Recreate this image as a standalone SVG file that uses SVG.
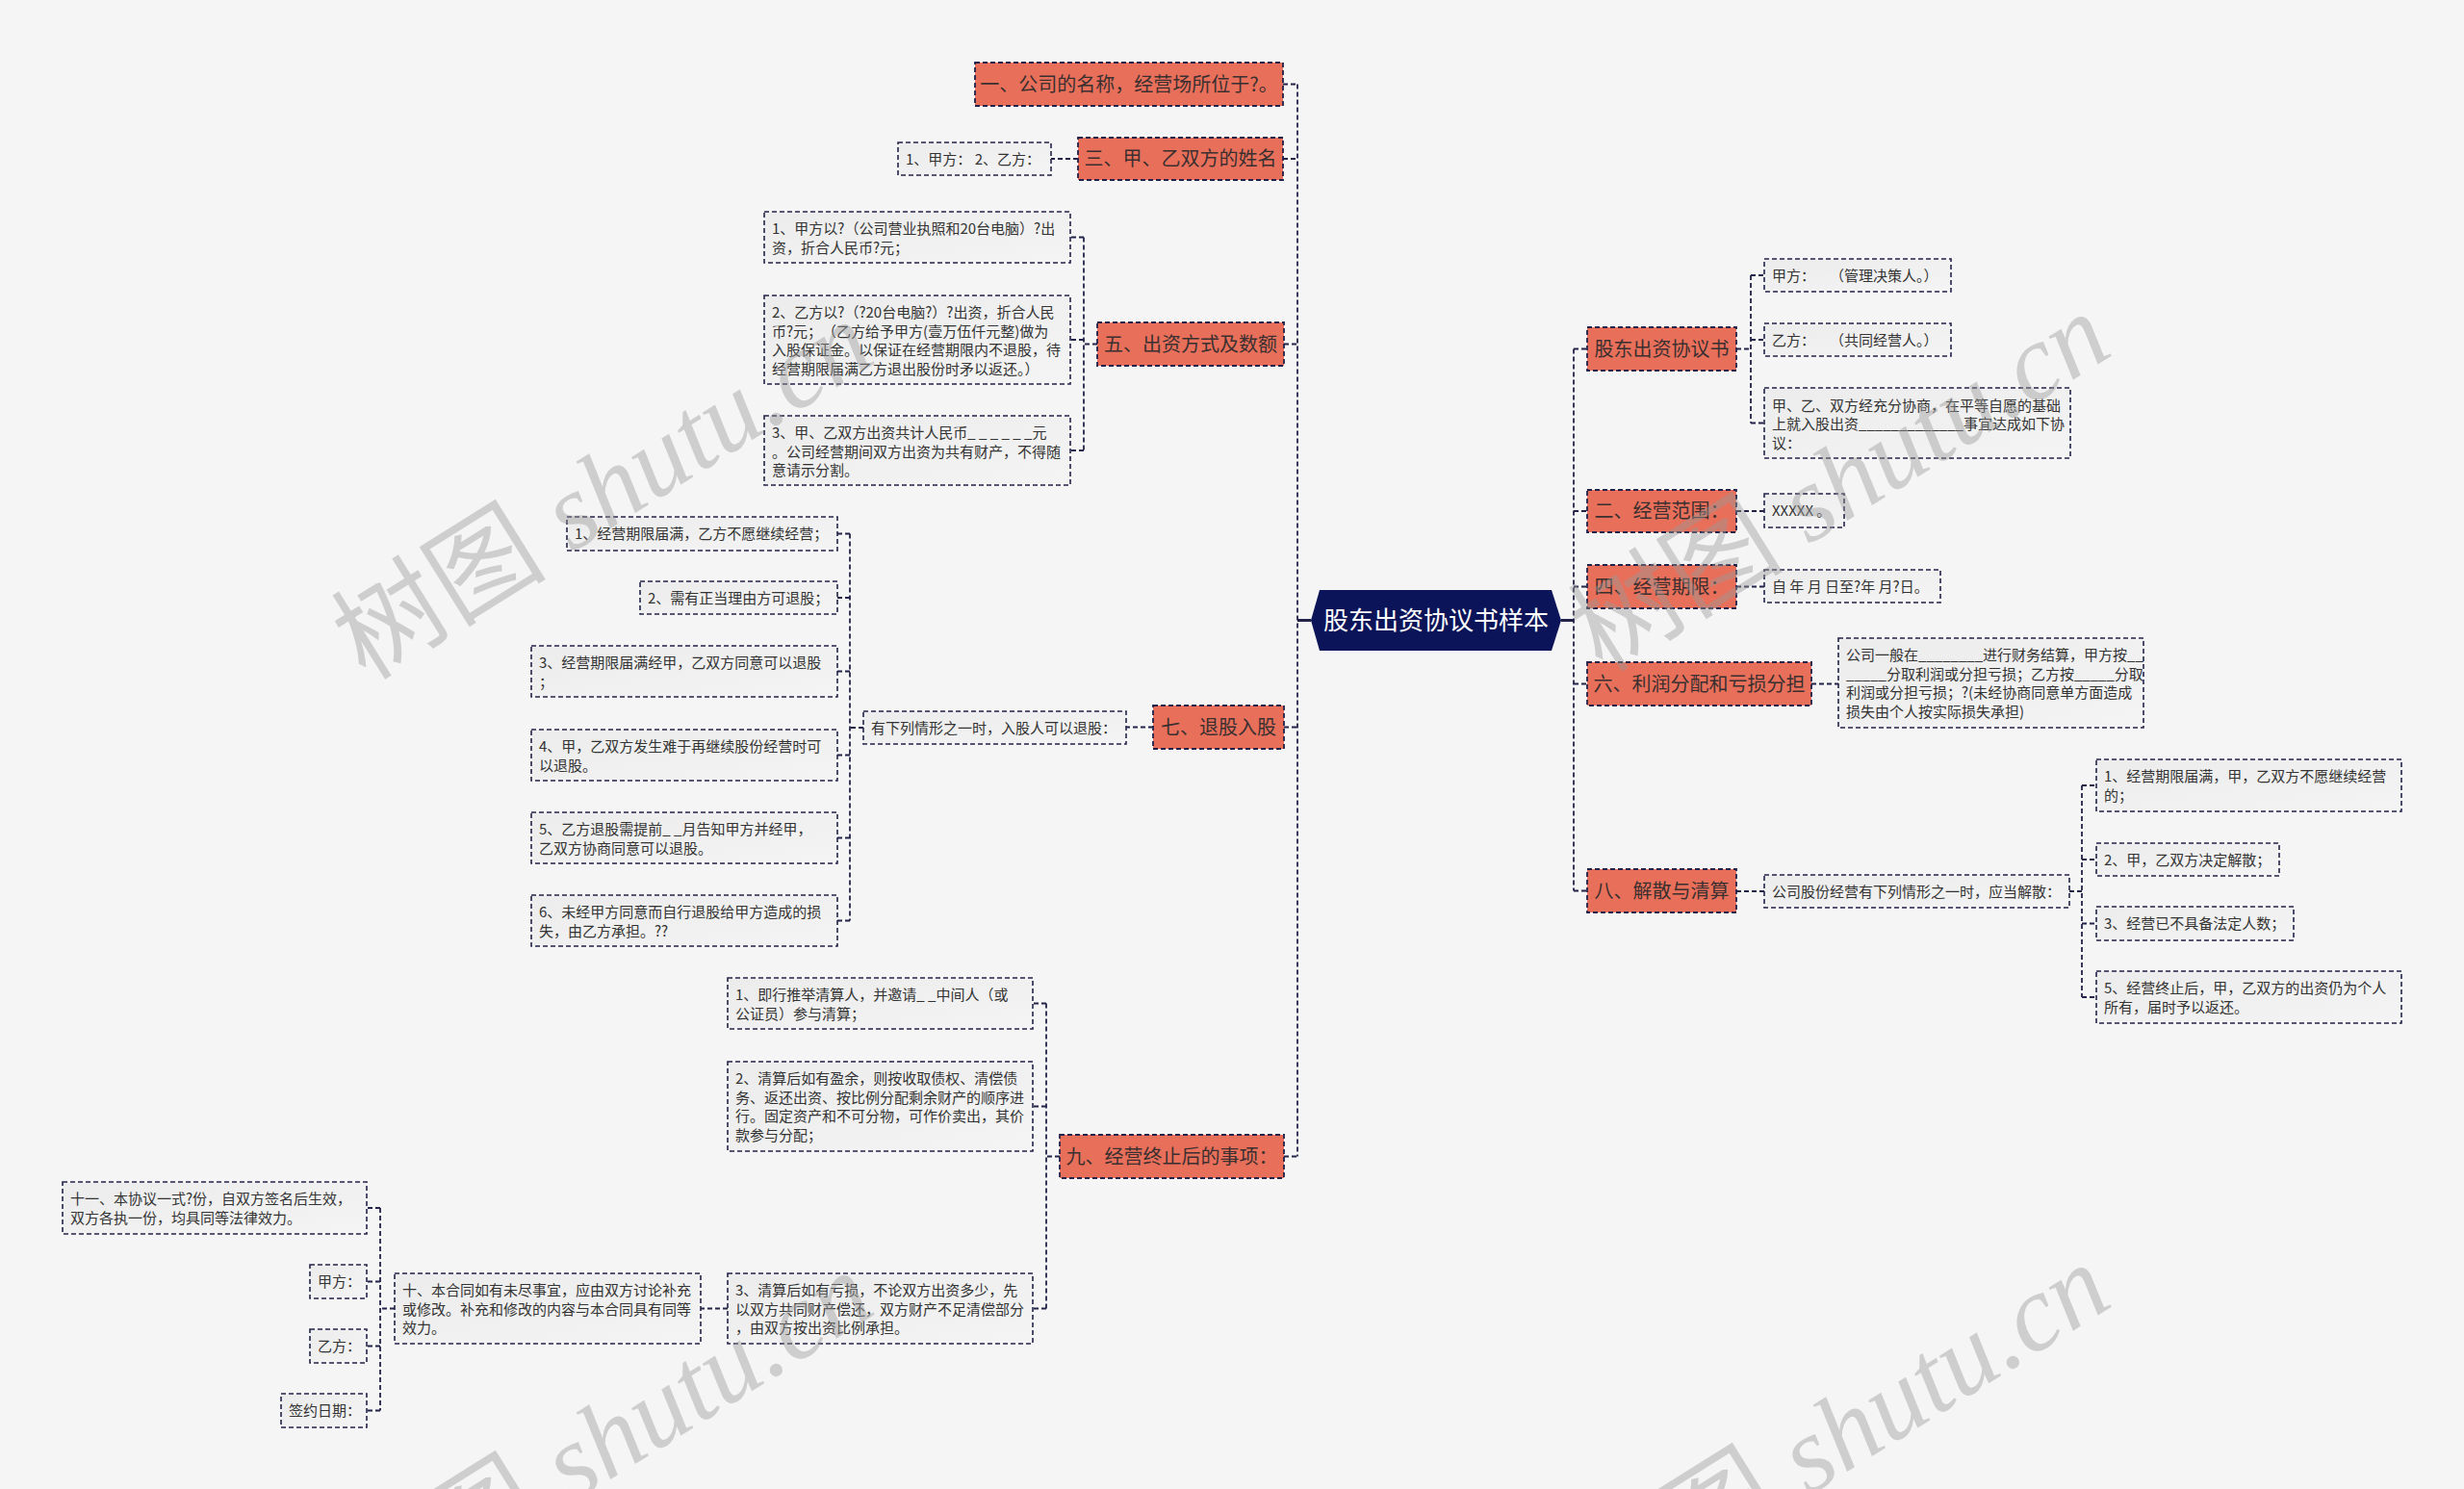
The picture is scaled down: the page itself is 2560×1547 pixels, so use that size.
<svg xmlns="http://www.w3.org/2000/svg" width="2560" height="1547" viewBox="0 0 2560 1547">
<defs>
<linearGradient id="g2" x1="0" y1="0" x2="1" y2="1">
<stop offset="0" stop-color="#ececec"/>
<stop offset="1" stop-color="#f4f4f4"/>
</linearGradient>
<style>
.n1 rect{fill:#e8705b;stroke:#23234a;stroke-width:1.8;stroke-dasharray:5 3}
.n2 rect{fill:url(#g2);stroke:#23234a;stroke-width:1.6;stroke-dasharray:5 3}
.n1 text{font-family:"Noto Sans CJK SC","Noto Sans",sans-serif;font-size:20px;fill:#3b2f2f;text-anchor:middle}
.n2 text{font-family:"Noto Sans CJK SC","Noto Sans",sans-serif;font-size:15px;fill:#333333}
.c path{fill:none;stroke:#23234a;stroke-width:1.8;stroke-dasharray:5 3}
.c .solid{stroke-dasharray:none;stroke-width:3}
.wm{font-family:"Liberation Serif","Noto Sans CJK SC",serif;font-style:italic;font-size:112px;fill:#999999;opacity:0.42}
.wm .cjk{font-family:"Noto Sans CJK SC",sans-serif;font-style:normal}
</style>
</defs>
<rect x="0" y="0" width="2560" height="1547" fill="#f5f5f5"/>

<g class="c" id="connectors">
<path class="solid" d="M1348 644.5H1362M1622 644.5H1635"/>
<path d="M1348 87.5V1201.5M1333 87.5H1348M1333 165H1348M1334 357.5H1348M1334 755.5H1348M1334 1201.5H1348"/>
<path d="M1635 362.5V925.5M1635 362.5H1649M1635 531H1649M1635 609.5H1649M1635 710.5H1649M1635 925.5H1649"/>
<path d="M1120 165H1092"/>
<path d="M1140 357.5H1126M1126 246.5V468M1126 246.5H1112M1126 353H1112M1126 468H1112"/>
<path d="M1198 755.5H1170M897 756H883M883 554.5V956.5M883 554.5H870M883 621H870M883 697.5H870M883 784.5H870M883 870.5H870M883 956.5H870"/>
<path d="M1101 1201.5H1087M1087 1042.5V1359.5M1087 1042.5H1073M1087 1149.5H1073M1087 1359.5H1073"/>
<path d="M756 1359.5H728"/>
<path d="M410 1359.5H395M395 1255V1465.5M395 1255H381M395 1331.5H381M395 1398.5H381M395 1465.5H381"/>
<path d="M1804 362.5H1819M1819 286V439.5M1819 286H1833M1819 353H1833M1819 439.5H1833"/>
<path d="M1804 531H1833M1804 609.5H1833M1882 710.5H1910"/>
<path d="M1804 926H1833M2150 926H2163M2163 816V1036M2163 816H2178M2163 893H2178M2163 959.5H2178M2163 1036H2178"/>
</g>

<g id="root">
<polygon points="1362,644.5 1371,613 1612,613 1622,644.5 1612,676 1371,676" fill="#0c1459"/>
<text x="1492" y="654" font-family="Noto Sans CJK SC, Noto Sans, sans-serif" font-size="26" fill="#ffffff" text-anchor="middle">股东出资协议书样本</text>
</g>

<g id="n-yi" class="n1"><rect x="1013" y="65" width="320" height="45"/><text x="1173" y="94.5">一、公司的名称，经营场所位于?。</text></g>
<g id="n-san" class="n1"><rect x="1120" y="143" width="213" height="44"/><text x="1226.5" y="172">三、甲、乙双方的姓名</text></g>
<g id="n-san-1" class="n2"><rect x="933" y="148" width="159" height="34"/><text x="941" y="170.5">1、甲方： 2、乙方：</text></g>

<g id="n-wu" class="n1"><rect x="1140" y="335" width="194" height="45"/><text x="1237" y="364.5">五、出资方式及数额</text></g>
<g id="n-wu-1" class="n2"><rect x="794" y="220" width="318" height="53"/><text x="802" y="243">1、甲方以?（公司营业执照和20台电脑）?出<tspan x="802" dy="19.5">资，折合人民币?元；</tspan></text></g>
<g id="n-wu-2" class="n2"><rect x="794" y="307" width="318" height="92"/><text x="802" y="330">2、乙方以?（?20台电脑?）?出资，折合人民<tspan x="802" dy="19.5">币?元；　（乙方给予甲方(壹万伍仟元整)做为</tspan><tspan x="802" dy="19.5">入股保证金。以保证在经营期限内不退股，待</tspan><tspan x="802" dy="19.5">经营期限届满乙方退出股份时矛以返还。）</tspan></text></g>
<g id="n-wu-3" class="n2"><rect x="794" y="432" width="318" height="72"/><text x="802" y="455">3、甲、乙双方出资共计人民币_ _ _ _ _ _元<tspan x="802" dy="19.5">。公司经营期间双方出资为共有财产，不得随</tspan><tspan x="802" dy="19.5">意请示分割。</tspan></text></g>

<g id="n-qi" class="n1"><rect x="1198" y="733" width="136" height="45"/><text x="1266" y="762.5">七、退股入股</text></g>
<g id="n-qi-m" class="n2"><rect x="897" y="739" width="273" height="34"/><text x="905" y="761.5">有下列情形之一时，入股人可以退股：</text></g>
<g id="n-qi-1" class="n2"><rect x="589" y="537" width="281" height="35"/><text x="597" y="560">1、经营期限届满，乙方不愿继续经营；</text></g>
<g id="n-qi-2" class="n2"><rect x="665" y="604" width="205" height="34"/><text x="673" y="626.5">2、需有正当理由方可退股；</text></g>
<g id="n-qi-3" class="n2"><rect x="552" y="671" width="318" height="53"/><text x="560" y="694">3、经营期限届满经甲，乙双方同意可以退股<tspan x="560" dy="19.5">；</tspan></text></g>
<g id="n-qi-4" class="n2"><rect x="552" y="758" width="318" height="53"/><text x="560" y="781">4、甲，乙双方发生难于再继续股份经营时可<tspan x="560" dy="19.5">以退股。</tspan></text></g>
<g id="n-qi-5" class="n2"><rect x="552" y="844" width="318" height="53"/><text x="560" y="867">5、乙方退股需提前_ _月告知甲方并经甲，<tspan x="560" dy="19.5">乙双方协商同意可以退股。</tspan></text></g>
<g id="n-qi-6" class="n2"><rect x="552" y="930" width="318" height="53"/><text x="560" y="953">6、未经甲方同意而自行退股给甲方造成的损<tspan x="560" dy="19.5">失，由乙方承担。??</tspan></text></g>

<g id="n-jiu" class="n1"><rect x="1101" y="1179" width="233" height="45"/><text x="1217.5" y="1208.5">九、经营终止后的事项：</text></g>
<g id="n-jiu-1" class="n2"><rect x="756" y="1016" width="317" height="53"/><text x="764" y="1039">1、即行推举清算人，并邀请_ _中间人（或<tspan x="764" dy="19.5">公证员）参与清算；</tspan></text></g>
<g id="n-jiu-2" class="n2"><rect x="756" y="1103" width="317" height="93"/><text x="764" y="1126">2、清算后如有盈余，则按收取债权、清偿债<tspan x="764" dy="19.5">务、返还出资、按比例分配剩余财产的顺序进</tspan><tspan x="764" dy="19.5">行。固定资产和不可分物，可作价卖出，其价</tspan><tspan x="764" dy="19.5">款参与分配；</tspan></text></g>
<g id="n-jiu-3" class="n2"><rect x="756" y="1323" width="317" height="73"/><text x="764" y="1346">3、清算后如有亏损，不论双方出资多少，先<tspan x="764" dy="19.5">以双方共同财产偿还，双方财产不足清偿部分</tspan><tspan x="764" dy="19.5">，由双方按出资比例承担。</tspan></text></g>
<g id="n-shi" class="n2"><rect x="410" y="1323" width="318" height="73"/><text x="418" y="1346">十、本合同如有未尽事宜，应由双方讨论补充<tspan x="418" dy="19.5">或修改。补充和修改的内容与本合同具有同等</tspan><tspan x="418" dy="19.5">效力。</tspan></text></g>
<g id="n-shiyi" class="n2"><rect x="65" y="1228" width="316" height="54"/><text x="73" y="1251">十一、本协议一式?份，自双方签名后生效，<tspan x="73" dy="19.5">双方各执一份，均具同等法律效力。</tspan></text></g>
<g id="n-jiafang" class="n2"><rect x="322" y="1314" width="59" height="35"/><text x="330" y="1337">甲方：</text></g>
<g id="n-yifang" class="n2"><rect x="322" y="1381" width="59" height="35"/><text x="330" y="1404">乙方：</text></g>
<g id="n-date" class="n2"><rect x="292" y="1448" width="89" height="35"/><text x="300" y="1471">签约日期：</text></g>

<g id="n-xieyi" class="n1"><rect x="1649" y="340" width="155" height="45"/><text x="1726.5" y="369.5">股东出资协议书</text></g>
<g id="n-xieyi-1" class="n2"><rect x="1833" y="269" width="194" height="34"/><text x="1841" y="291.5">甲方：　　（管理决策人。）</text></g>
<g id="n-xieyi-2" class="n2"><rect x="1833" y="336" width="194" height="34"/><text x="1841" y="358.5">乙方：　　（共同经营人。）</text></g>
<g id="n-xieyi-3" class="n2"><rect x="1833" y="403" width="318" height="73"/><text x="1841" y="426.5">甲、乙、双方经充分协商，在平等自愿的基础<tspan x="1841" dy="19.5">上就入股出资_____________事宜达成如下协</tspan><tspan x="1841" dy="19.5">议：</tspan></text></g>
<g id="n-er" class="n1"><rect x="1649" y="509" width="155" height="44"/><text x="1726.5" y="538">二、经营范围：</text></g>
<g id="n-er-1" class="n2"><rect x="1833" y="513" width="83" height="35"/><text x="1841" y="536">XXXXX 。</text></g>
<g id="n-si" class="n1"><rect x="1649" y="587" width="155" height="45"/><text x="1726.5" y="616.5">四、经营期限：</text></g>
<g id="n-si-1" class="n2"><rect x="1833" y="592" width="183" height="34"/><text x="1841" y="614.5">自 年 月 日至?年 月?日。</text></g>
<g id="n-liu" class="n1"><rect x="1649" y="688" width="233" height="45"/><text x="1765.5" y="717.5">六、利润分配和亏损分担</text></g>
<g id="n-liu-1" class="n2"><rect x="1910" y="663" width="317" height="93"/><text x="1918" y="686">公司一般在________进行财务结算，甲方按__<tspan x="1918" dy="19.5">_____分取利润或分担亏损；乙方按_____分取</tspan><tspan x="1918" dy="19.5">利润或分担亏损；?(未经协商同意单方面造成</tspan><tspan x="1918" dy="19.5">损失由个人按实际损失承担)</tspan></text></g>
<g id="n-ba" class="n1"><rect x="1649" y="903" width="155" height="45"/><text x="1726.5" y="932.5">八、解散与清算</text></g>
<g id="n-ba-m" class="n2"><rect x="1833" y="909" width="317" height="34"/><text x="1841" y="931.5">公司股份经营有下列情形之一时，应当解散：</text></g>
<g id="n-ba-1" class="n2"><rect x="2178" y="789" width="317" height="54"/><text x="2186" y="812">1、经营期限届满，甲，乙双方不愿继续经营<tspan x="2186" dy="19.5">的；</tspan></text></g>
<g id="n-ba-2" class="n2"><rect x="2178" y="876" width="190" height="34"/><text x="2186" y="898.5">2、甲，乙双方决定解散；</text></g>
<g id="n-ba-3" class="n2"><rect x="2178" y="942" width="205" height="35"/><text x="2186" y="965">3、经营已不具备法定人数；</text></g>
<g id="n-ba-5" class="n2"><rect x="2178" y="1009" width="317" height="54"/><text x="2186" y="1032">5、经营终止后，甲，乙双方的出资仍为个人<tspan x="2186" dy="19.5">所有，届时予以返还。</tspan></text></g>

<g id="watermarks">
<text class="wm" transform="translate(380,708) rotate(-32)"><tspan class="cjk">树图</tspan> shutu.cn</text>
<text class="wm" transform="translate(1665,700) rotate(-32)"><tspan class="cjk">树图</tspan> shutu.cn</text>
<text class="wm" transform="translate(380,1696) rotate(-32)"><tspan class="cjk">树图</tspan> shutu.cn</text>
<text class="wm" transform="translate(1665,1688) rotate(-32)"><tspan class="cjk">树图</tspan> shutu.cn</text>
</g>
</svg>
